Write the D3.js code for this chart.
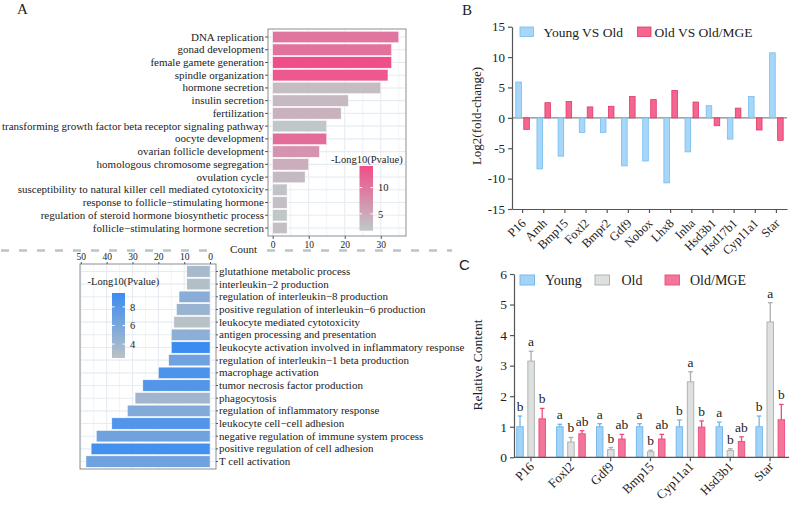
<!DOCTYPE html>
<html><head><meta charset="utf-8">
<script src="https://cdn.jsdelivr.net/npm/d3@7"></script>
<style>
body{margin:0;background:#fff;}
svg text{font-family:"Liberation Serif","Times New Roman",serif;fill:#222;}
</style></head>
<body><svg id="c" width="791" height="512"></svg>
<script>
// ---------- Panel A (top) ----------
const topTerms = ["DNA replication","gonad development","female gamete generation","spindle organization","hormone secretion","insulin secretion","fertilization","transforming growth factor beta receptor signaling pathway","oocyte development","ovarian follicle development","homologous chromosome segregation","ovulation cycle","susceptibility to natural killer cell mediated cytotoxicity","response to follicle\u2212stimulating hormone","regulation of steroid hormone biosynthetic process","follicle\u2212stimulating hormone secretion"];
const topCount = [35,33,33,32,30,21,19,15,15,13,10,9,4,4,4,4];
const topLogP = [10,10.5,14,13,3,3.3,4,1.9,11,7,4.5,3.2,2.3,2.7,1.9,2.7];
const topXTicks = [0,10,20,30];
const topLegendTicks = [5,10];
// ---------- Panel A (bottom) ----------
const botTerms = ["glutathione metabolic process","interleukin\u22122 production","regulation of interleukin\u22128 production","positive regulation of interleukin\u22126 production","leukocyte mediated cytotoxicity","antigen processing and presentation","leukocyte activation involved in inflammatory response","regulation of interleukin\u22121 beta production","macrophage activation","tumor necrosis factor production","phagocytosis","regulation of inflammatory response","leukocyte cell\u2212cell adhesion","negative regulation of immune system process","positive regulation of cell adhesion","T cell activation"];
const botCount = [9,9,12,13,14,15,15,16,20,26,29,32,38,44,46,48];
const botLogP = [3.6,2.9,5.2,4.3,2.6,5.0,9.5,6.6,8.6,8.2,4.0,5.6,8.2,6.6,9.0,6.6];
const botXTicks = [50,40,30,20,10,0];
const botLegendTicks = [4,6,8];
// ---------- Panel B ----------
const bGenes = ["P16","Amh","Bmp15","Foxl2","Bmpr2","Gdf9","Nobox","Lhx8","Inha","Hsd3b1","Hsd17b1","Cyp11a1","Star"];
const bSeries = ["Young VS Old","Old VS Old/MGE"];
const bYoungVsOld = [5.9,-8.4,-6.3,-2.4,-2.4,-7.9,-7.1,-10.7,-5.6,2.0,-3.5,3.5,10.7];
const bOldVsMGE = [-1.9,2.5,2.7,1.8,1.9,3.5,3.0,4.5,2.6,-1.3,1.6,-2.0,-3.7];
const bYTicks = [-15,-10,-5,0,5,10,15];
// ---------- Panel C ----------
const cGenes = ["P16","Foxl2","Gdf9","Bmp15","Cyp11a1","Hsd3b1","Star"];
const cGroups = ["Young","Old","Old/MGE"];
const cYoung = [1,1,1,1,1,1,1];
const cYoungErr = [0.35,0.08,0.1,0.1,0.22,0.15,0.35];
const cOld = [3.15,0.5,0.25,0.18,2.47,0.22,4.43];
const cOldErr = [0.32,0.15,0.07,0.05,0.33,0.06,0.63];
const cMGE = [1.26,0.77,0.6,0.6,0.99,0.52,1.23];
const cMGEErr = [0.34,0.1,0.15,0.15,0.2,0.15,0.5];
const cYoungSig = ["b","a","a","a","b","a","b"];
const cOldSig = ["a","b","b","b","a","b","a"];
const cMGESig = ["b","ab","ab","ab","b","ab","b"];
const cYTicks = [0,1,2,3,4,5,6];

const svg = d3.select("#c");
const gridCol = "#e6ecf2", boxCol = "#8a8f93";
svg.append("defs");

// ===== Panel A top =====
(function(){
  const L=268,R=406,T=29,B=236;
  const x = d3.scaleLinear().domain([-1.3,37]).range([L,R]);
  const y = d3.scaleBand().domain(topTerms).range([T+1,B-1]).padding(0.1);
  const col = d3.scaleLinear().domain([1.8,14.1]).range(["#c0c8ca","#f04d89"]).interpolate(d3.interpolateRgb);
  const g = svg.append("g");
  g.append("rect").attr("x",L).attr("y",T).attr("width",R-L).attr("height",B-T).attr("fill","#fff");
  [5,15,25,35].forEach(v=>g.append("line").attr("x1",x(v)).attr("x2",x(v)).attr("y1",T).attr("y2",B).attr("stroke",gridCol).attr("stroke-width",0.6));
  topXTicks.forEach(v=>g.append("line").attr("x1",x(v)).attr("x2",x(v)).attr("y1",T).attr("y2",B).attr("stroke",gridCol).attr("stroke-width",1.1));
  topTerms.forEach(t=>g.append("line").attr("x1",L).attr("x2",R).attr("y1",y(t)+y.bandwidth()/2).attr("y2",y(t)+y.bandwidth()/2).attr("stroke",gridCol).attr("stroke-width",1.1));
  g.selectAll(".bar").data(topTerms).join("rect")
    .attr("x",x(0)).attr("y",d=>y(d)).attr("width",(d,i)=>x(topCount[i])-x(0)).attr("height",y.bandwidth())
    .attr("fill",(d,i)=>col(topLogP[i])).attr("stroke","#fff").attr("stroke-width",0.5);
  g.append("rect").attr("x",L).attr("y",T).attr("width",R-L).attr("height",B-T).attr("fill","none").attr("stroke",boxCol).attr("stroke-width",1);
  const ax = d3.axisBottom(x).tickValues(topXTicks).tickSize(3).tickSizeOuter(0);
  const ga = g.append("g").attr("transform",`translate(0,${B})`).call(ax);
  ga.select(".domain").remove();
  ga.selectAll("line").attr("stroke","#555");
  ga.selectAll("text").attr("font-size",9.5).attr("fill","#444").attr("dy","0.6em");
  const ay = d3.axisLeft(y).tickSize(3);
  const gy = g.append("g").attr("transform",`translate(${L},0)`).call(ay);
  gy.select(".domain").remove();
  gy.selectAll("line").attr("stroke","#555");
  gy.selectAll("text").attr("font-size",11).attr("fill","#222").attr("x",-4);
  const lg = svg.select("defs").append("linearGradient").attr("id","gTop").attr("x1",0).attr("x2",0).attr("y1",1).attr("y2",0);
  lg.append("stop").attr("offset",0).attr("stop-color",col(1.8));
  lg.append("stop").attr("offset",1).attr("stop-color",col(14.1));
  const ly = d3.scaleLinear().domain([1.8,14.1]).range([230.7,166]);
  g.append("text").attr("x",331).attr("y",162.5).attr("font-size",10.5).text("-Long10(Pvalue)");
  g.append("rect").attr("x",359.5).attr("y",166).attr("width",13.5).attr("height",64.7).attr("fill","url(#gTop)");
  topLegendTicks.forEach(v=>{
    g.append("line").attr("x1",359.5).attr("x2",362).attr("y1",ly(v)).attr("y2",ly(v)).attr("stroke","#fff");
    g.append("line").attr("x1",370.5).attr("x2",373).attr("y1",ly(v)).attr("y2",ly(v)).attr("stroke","#fff");
    g.append("text").attr("x",378).attr("y",ly(v)).attr("dy","0.35em").attr("font-size",10.5).text(v);
  });
  g.append("text").attr("x",243.5).attr("y",253).attr("text-anchor","middle").attr("font-size",11).text("Count");
})();

// dashed separator
[[1,212],[267,452]].forEach(s=>svg.append("line").attr("x1",s[0]).attr("x2",s[1]).attr("y1",250.5).attr("y2",250.5)
  .attr("stroke","#b7c6c6").attr("stroke-width",2.6).attr("stroke-dasharray","8,10"));

// ===== Panel A bottom =====
(function(){
  const L=80,R=216,T=264,B=469;
  const x = d3.scaleLinear().domain([50.3,-2.3]).range([L,R]);
  const y = d3.scaleBand().domain(botTerms).range([T+0.5,B-0.5]).padding(0.1);
  const col = d3.scaleLinear().domain([2.5,9.5]).range(["#bac2c5","#3b8cf1"]).interpolate(d3.interpolateRgb);
  const g = svg.append("g");
  g.append("rect").attr("x",L).attr("y",T).attr("width",R-L).attr("height",B-T).attr("fill","#fff");
  [45,35,25,15,5].forEach(v=>g.append("line").attr("x1",x(v)).attr("x2",x(v)).attr("y1",T).attr("y2",B).attr("stroke",gridCol).attr("stroke-width",0.6));
  botXTicks.forEach(v=>g.append("line").attr("x1",x(v)).attr("x2",x(v)).attr("y1",T).attr("y2",B).attr("stroke",gridCol).attr("stroke-width",1.1));
  botTerms.forEach(t=>g.append("line").attr("x1",L).attr("x2",R).attr("y1",y(t)+y.bandwidth()/2).attr("y2",y(t)+y.bandwidth()/2).attr("stroke",gridCol).attr("stroke-width",1.1));
  g.selectAll(".bar").data(botTerms).join("rect")
    .attr("x",(d,i)=>x(botCount[i])).attr("y",d=>y(d)).attr("width",(d,i)=>x(0)-x(botCount[i])).attr("height",y.bandwidth())
    .attr("fill",(d,i)=>col(botLogP[i])).attr("stroke","#fff").attr("stroke-width",0.5);
  g.append("rect").attr("x",L).attr("y",T).attr("width",R-L).attr("height",B-T).attr("fill","none").attr("stroke",boxCol).attr("stroke-width",1);
  const ax = d3.axisTop(x).tickValues(botXTicks).tickSize(2).tickSizeOuter(0);
  const ga = g.append("g").attr("transform",`translate(0,${T})`).call(ax);
  ga.select(".domain").remove();
  ga.selectAll("line").attr("stroke","#555");
  ga.selectAll("text").attr("font-size",9.5).attr("fill","#444").attr("y",-4);
  const ay = d3.axisRight(y).tickSize(2);
  const gy = g.append("g").attr("transform",`translate(${R},0)`).call(ay);
  gy.select(".domain").remove();
  gy.selectAll("line").attr("stroke","#555");
  gy.selectAll("text").attr("font-size",11).attr("fill","#222").attr("x",3);
  const lg = svg.select("defs").append("linearGradient").attr("id","gBot").attr("x1",0).attr("x2",0).attr("y1",1).attr("y2",0);
  lg.append("stop").attr("offset",0).attr("stop-color",col(2.5));
  lg.append("stop").attr("offset",1).attr("stop-color",col(9.5));
  const ly = d3.scaleLinear().domain([2.5,9.5]).range([358,293]);
  g.append("text").attr("x",87.5).attr("y",285).attr("font-size",10.5).text("-Long10(Pvalue)");
  g.append("rect").attr("x",112).attr("y",293).attr("width",13).attr("height",65).attr("fill","url(#gBot)");
  botLegendTicks.forEach(v=>{
    g.append("line").attr("x1",112).attr("x2",114.5).attr("y1",ly(v)).attr("y2",ly(v)).attr("stroke","#fff");
    g.append("line").attr("x1",122.5).attr("x2",125).attr("y1",ly(v)).attr("y2",ly(v)).attr("stroke","#fff");
    g.append("text").attr("x",130).attr("y",ly(v)).attr("dy","0.35em").attr("font-size",10.5).text(v);
  });
})();

// panel labels
svg.append("text").attr("x",17).attr("y",14).attr("font-size",15).text("A");
svg.append("text").attr("x",462).attr("y",15).attr("font-size",15).text("B");
svg.append("text").attr("x",459).attr("y",270).attr("font-size",15).style("font-family","Liberation Sans, Arial, sans-serif").text("C");

// ===== Panel B =====
(function(){
  const L=512,R=787,T=26.7,B=209;
  const x = d3.scaleBand().domain(bGenes).range([L,R]);
  const x1 = d3.scaleBand().domain(bSeries).range([x.step()*0.18,x.step()*0.82]).paddingInner(0.3);
  const y = d3.scaleLinear().domain([-15,15]).range([B,T]);
  const fills = ["#a6d7f8","#f4668f"], strokes=["#76bbec","#e0376a"];
  const data = [bYoungVsOld,bOldVsMGE];
  const g = svg.append("g");
  g.append("line").attr("x1",L).attr("x2",R).attr("y1",y(0)).attr("y2",y(0)).attr("stroke","#888").attr("stroke-width",1.2);
  bSeries.forEach((s,si)=>{
    g.selectAll(".b"+si).data(bGenes).join("rect")
      .attr("x",d=>x(d)+x1(s)).attr("width",x1.bandwidth())
      .attr("y",(d,i)=>y(Math.max(0,data[si][i]))).attr("height",(d,i)=>Math.abs(y(data[si][i])-y(0)))
      .attr("fill",fills[si]).attr("stroke",strokes[si]).attr("stroke-width",0.8);
  });
  const ay = d3.axisLeft(y).tickValues(bYTicks).tickSize(4).tickSizeOuter(0).tickFormat(d3.format("d"));
  const gy = g.append("g").attr("transform",`translate(${L},0)`).call(ay);
  gy.select(".domain").attr("stroke","#555").attr("stroke-width",1.2);
  gy.selectAll("line").attr("stroke","#555").attr("stroke-width",1.2);
  gy.selectAll("text").attr("font-size",13).attr("fill","#222").text(d=>d<0?"-"+Math.abs(d):d);
  const ax = d3.axisBottom(x).tickSize(4).tickSizeOuter(0);
  const gx = g.append("g").attr("transform",`translate(0,${B})`).call(ax);
  gx.select(".domain").attr("stroke","#555").attr("stroke-width",1.2);
  gx.selectAll("line").attr("stroke","#555").attr("stroke-width",1.2);
  gx.selectAll("text").attr("font-size",12.5).attr("fill","#222")
    .attr("text-anchor","end").attr("dy",0).attr("y",0).attr("x",0).attr("transform","translate(4,15) rotate(-45)");
  g.append("text").attr("transform","translate(481,116) rotate(-90)").attr("text-anchor","middle").attr("font-size",13).text("Log2(fold-change)");
  const lx=[520,637.5], tx=[543.5,654.5];
  bSeries.forEach((s,i)=>{
    g.append("rect").attr("x",lx[i]).attr("y",27).attr("width",13.5).attr("height",9.5).attr("fill",fills[i]).attr("stroke",strokes[i]).attr("stroke-width",0.8);
    g.append("text").attr("x",tx[i]).attr("y",36.5).attr("font-size",13.5).text(s);
  });
})();

// ===== Panel C =====
(function(){
  const L=514,R=789,T=274,B=457.3;
  const x = d3.scaleBand().domain(cGenes).range([511,790]);
  const x1 = d3.scaleBand().domain(cGroups).range([5.75,34.45]).paddingInner(0.414);
  const y = d3.scaleLinear().domain([0,6]).range([B,T]);
  const fills = ["#a3d4f5","#dde0df","#f4759a"], strokes=["#6db6ee","#a9adae","#ee4a7c"];
  const vals=[cYoung,cOld,cMGE], errs=[cYoungErr,cOldErr,cMGEErr], sig=[cYoungSig,cOldSig,cMGESig];
  const g = svg.append("g");
  cGroups.forEach((s,si)=>{
    const cx = d=>x(d)+x1(s)+x1.bandwidth()/2;
    g.selectAll(".e"+si).data(cGenes).join("line")
      .attr("x1",cx).attr("x2",cx).attr("y1",(d,i)=>y(vals[si][i])).attr("y2",(d,i)=>y(vals[si][i]+errs[si][i]))
      .attr("stroke",strokes[si]).attr("stroke-width",1.3);
    g.selectAll(".c"+si).data(cGenes).join("line")
      .attr("x1",d=>cx(d)-2.3).attr("x2",d=>cx(d)+2.3).attr("y1",(d,i)=>y(vals[si][i]+errs[si][i])).attr("y2",(d,i)=>y(vals[si][i]+errs[si][i]))
      .attr("stroke",strokes[si]).attr("stroke-width",1.3);
    g.selectAll(".r"+si).data(cGenes).join("rect")
      .attr("x",d=>x(d)+x1(s)).attr("width",x1.bandwidth())
      .attr("y",(d,i)=>y(vals[si][i])).attr("height",(d,i)=>y(0)-y(vals[si][i]))
      .attr("fill",fills[si]).attr("stroke",strokes[si]).attr("stroke-width",0.9);
    g.selectAll(".t"+si).data(cGenes).join("text")
      .attr("x",cx).attr("y",(d,i)=>y(vals[si][i]+errs[si][i])-5).attr("text-anchor","middle").attr("font-size",13.5)
      .text((d,i)=>sig[si][i]);
  });
  const ay = d3.axisLeft(y).tickValues(cYTicks).tickSize(4).tickSizeOuter(0).tickFormat(d3.format("d"));
  const gy = g.append("g").attr("transform",`translate(${L},0)`).call(ay);
  gy.select(".domain").attr("stroke","#555").attr("stroke-width",1.2);
  gy.selectAll("line").attr("stroke","#555").attr("stroke-width",1.2);
  gy.selectAll("text").attr("font-size",13.5).attr("fill","#222");
  const ax = d3.axisBottom(x).tickSize(4).tickSizeOuter(0);
  const gx = g.append("g").attr("transform",`translate(0,${B})`).call(ax);
  gx.select(".domain").attr("stroke","#555").attr("stroke-width",1.2).attr("d",`M${L},0H${R}`);
  gx.selectAll("line").attr("stroke","#555").attr("stroke-width",1.2);
  gx.selectAll("text").attr("font-size",13).attr("fill","#222")
    .attr("text-anchor","end").attr("dy",0).attr("y",0).attr("x",0).attr("transform","translate(4,10) rotate(-45)");
  g.append("text").attr("transform","translate(482,365) rotate(-90)").attr("text-anchor","middle").attr("font-size",13.5).text("Relative Content");
  const lx=[520,595,665], tx=[545,621.5,690];
  cGroups.forEach((s,i)=>{
    g.append("rect").attr("x",lx[i]).attr("y",275).attr("width",14.5).attr("height",10).attr("fill",fills[i]).attr("stroke",strokes[i]).attr("stroke-width",0.9);
    g.append("text").attr("x",tx[i]).attr("y",284.5).attr("font-size",14).text(s);
  });
})();
</script></body></html>
